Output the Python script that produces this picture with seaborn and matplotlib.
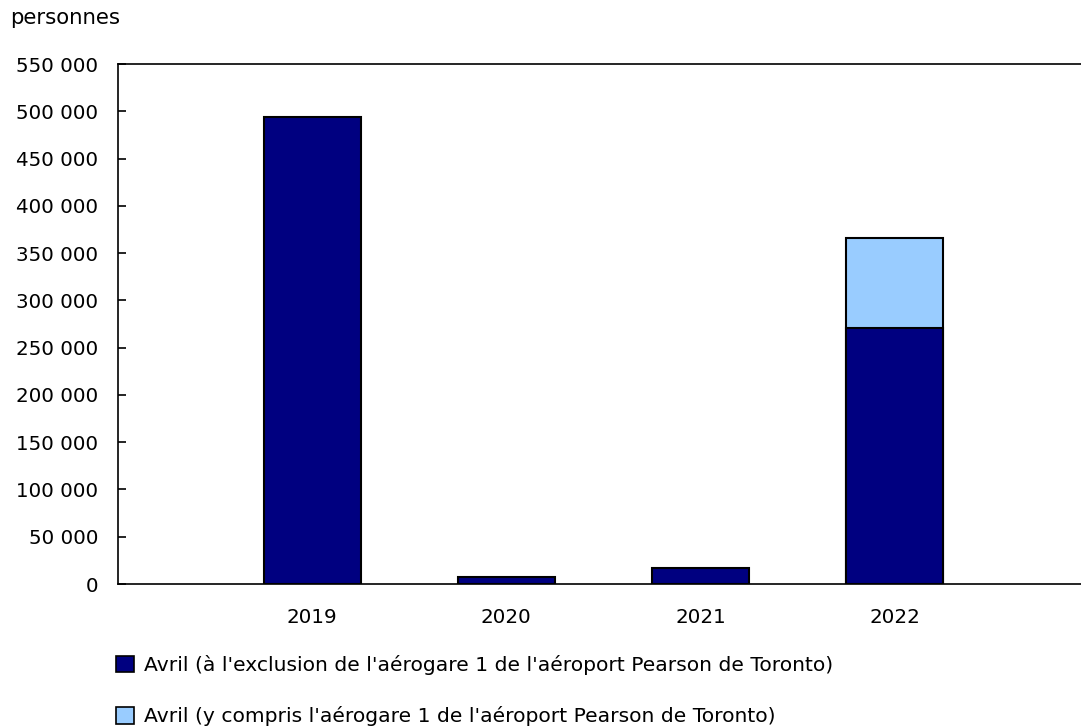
import pandas as pd
import seaborn as sns
import matplotlib
matplotlib.use("Agg")
import matplotlib.pyplot as plt
from matplotlib.patches import Patch
from matplotlib.ticker import FuncFormatter, MultipleLocator

# data
years = ["2019", "2020", "2021", "2022"]
excl_t1 = [494000, 7700, 17200, 270500]      # excluding terminal 1
incl_t1 = [494000, 7700, 17200, 365600]      # including terminal 1 (total)
has_incl = [False, False, False, True]

label_excl = "Avril (à l'exclusion de l'aérogare 1 de l'aéroport Pearson de Toronto)"
label_incl = "Avril (y compris l'aérogare 1 de l'aéroport Pearson de Toronto)"

dark = "#000080"
light = "#99CCFF"
FS = 14.3

df = pd.DataFrame({"year": years, "excl": excl_t1, "incl": incl_t1, "has_incl": has_incl})

sns.set_style("white")
plt.rcParams["font.family"] = ["DejaVu Sans"]
plt.rcParams["font.size"] = FS
plt.rcParams["text.color"] = "black"
plt.rcParams["xtick.color"] = "black"
plt.rcParams["ytick.color"] = "black"

fig = plt.figure(figsize=(10.81, 7.27), dpi=100)
ax = fig.add_axes([118 / 1081, 1 - 584 / 727, 1 - 118 / 1081, (584 - 64) / 727])

# total (light) first, then the dark part on top of it
sns.barplot(data=df[df["has_incl"]], x="year", y="incl", order=years, color=light,
            edgecolor="black", linewidth=1.5, width=0.5, saturation=1, ax=ax)
sns.barplot(data=df, x="year", y="excl", order=years, color=dark,
            edgecolor="black", linewidth=1.5, width=0.5, saturation=1, ax=ax)

ax.set_xlim(-1, 3.96)
ax.set_ylim(0, 550000)
ax.yaxis.set_major_locator(MultipleLocator(50000))
ax.yaxis.set_major_formatter(FuncFormatter(lambda v, p: f"{int(v):,}".replace(",", " ")))
ax.set_xlabel("")
ax.set_ylabel("")

for s in ["left", "top", "bottom"]:
    ax.spines[s].set_visible(True)
    ax.spines[s].set_color("black")
    ax.spines[s].set_linewidth(1.2)
ax.spines["right"].set_visible(False)

ax.tick_params(axis="y", direction="in", length=6, width=1.2, pad=14, left=True, labelsize=FS)
ax.tick_params(axis="x", length=0, pad=17, labelsize=FS)

fig.text(10 / 1081, 1 - 18 / 727, "personnes", ha="left", va="center", fontsize=FS + 1)

handles = [Patch(facecolor=dark, edgecolor="black", linewidth=1.2, label=label_excl),
           Patch(facecolor=light, edgecolor="black", linewidth=1.2, label=label_incl)]
fig.legend(handles=handles, loc="upper left", bbox_to_anchor=(116 / 1081, 1 - 655 / 727),
           frameon=False, borderpad=0, borderaxespad=0, handlelength=0.9, handleheight=0.9,
           handletextpad=0.5, labelspacing=1.55, fontsize=FS + 0.3)

fig.savefig("out.png", dpi=100)
